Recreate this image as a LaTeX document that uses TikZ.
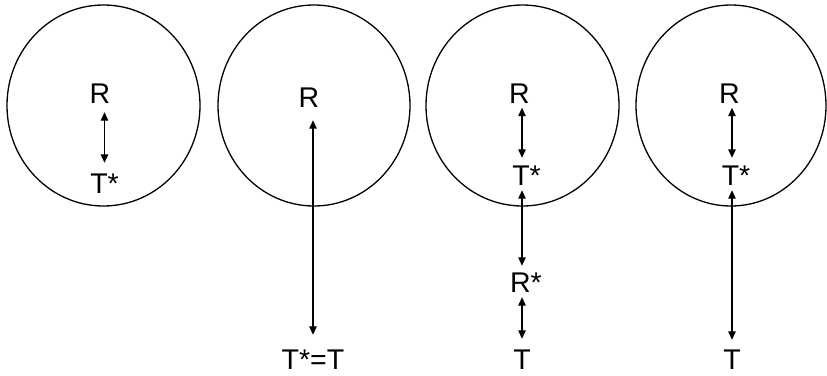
\documentclass[tikz,border=0pt]{standalone}
\usepackage{fontspec}
\setmainfont{Liberation Sans}
\usetikzlibrary{arrows.meta}
\begin{document}
\begin{tikzpicture}[x=1pt,y=-1pt,
  ring/.style={draw=black, line width=1.3pt},
  lbl/.style={font=\fontsize{28.5}{30}\selectfont, inner sep=0pt, text height=20pt, text depth=0pt, anchor=base},
  dar/.style={line width=1.25pt, {Triangle[length=8.5pt,width=7.5pt]}-{Triangle[length=8.5pt,width=7.5pt]}}]
\useasboundingbox (0,0) rectangle (827,375);

% four rings
\draw[ring] (103.5,105.5) ellipse [x radius=96.5, y radius=100.5];
\draw[ring] (314,105.5) ellipse [x radius=96, y radius=100.5];
\draw[ring] (522.5,105.5) ellipse [x radius=96.5, y radius=100.5];
\draw[ring] (731,105.5) ellipse [x radius=95, y radius=100.5];

% first ring
\node[lbl] (R1) at (100,103) {R};
\node[lbl] (T1) at (104.5,193) {T*};
\draw[dar, shorten <=9pt, shorten >=10pt] (R1.south -| T1) -- (T1.north);

% second ring
\node[lbl] (R2) at (309,107) {R};
\node[lbl] (T2) at (313,369) {T*=T};
\draw[dar, shorten <=13pt, shorten >=14pt] (R2.south -| T2) -- (T2.north);

% third ring
\node[lbl] (R3) at (519.5,103) {R};
\node[lbl] (S3) at (526.5,185) {T*};
\node[lbl] (Q3) at (526,292) {R*};
\node[lbl] (T3) at (522,369) {T};
\draw[dar, shorten <=4.5pt, shorten >=7pt] (R3.south -| T3) -- (S3.north -| T3);
\draw[dar, shorten <=5pt, shorten >=6pt] (S3.south -| T3) -- (Q3.north -| T3);
\draw[dar, shorten <=5pt, shorten >=10pt] (Q3.south -| T3) -- (T3.north);

% fourth ring
\node[lbl] (R4) at (729.5,103) {R};
\node[lbl] (S4) at (736,185) {T*};
\node[lbl] (T4) at (732,369) {T};
\draw[dar, shorten <=4.5pt, shorten >=7pt] (R4.south -| T4) -- (S4.north -| T4);
\draw[dar, shorten <=5pt, shorten >=9pt] (S4.south -| T4) -- (T4.north);
\end{tikzpicture}
\end{document}
